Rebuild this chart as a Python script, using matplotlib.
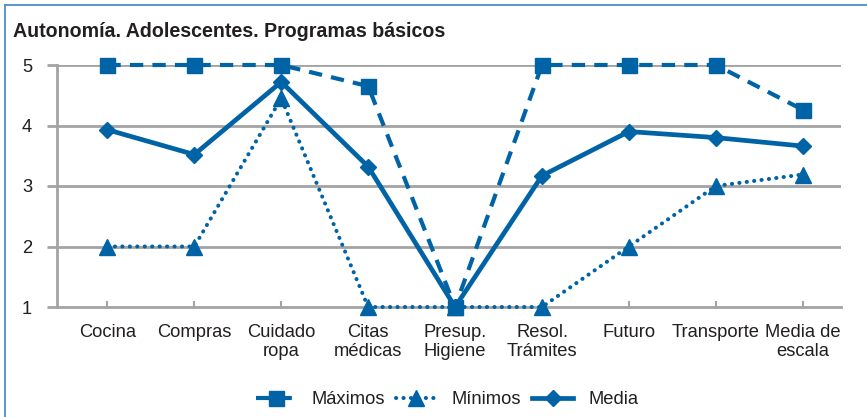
import matplotlib
matplotlib.use("Agg")
import matplotlib.pyplot as plt
from matplotlib.lines import Line2D

plt.rcParams['font.family'] = ['Liberation Sans', 'DejaVu Sans']

categories = ["Cocina", "Compras", "Cuidado\nropa", "Citas\nmédicas", "Presup.\nHigiene",
              "Resol.\nTrámites", "Futuro", "Transporte", "Media de\nescala"]
maximos = [5, 5, 5, 4.65, 1, 5, 5, 5, 4.26]
minimos = [2, 2, 4.45, 1, 1, 1, 2, 3, 3.19]
media = [3.93, 3.52, 4.72, 3.32, 1, 3.17, 3.90, 3.80, 3.66]
yticks = [1, 2, 3, 4, 5]
title = "Autonomía. Adolescentes. Programas básicos"

BLUE = "#0063a6"
GRAY = "#a3a3a3"
TXT = "#231f20"
FS = 13.2

fig = plt.figure(figsize=(8.67, 4.17), dpi=100)
ax = fig.add_axes([57/867, 1-307/417, (841-57)/867, (307-65)/417])

x = list(range(len(categories)))
ax.plot(x, maximos, color=BLUE, lw=3.0, ls=(0, (3.2, 2.2)), marker='s', ms=10.8,
        clip_on=False, zorder=3, label="Máximos")
ax.plot(x, minimos, color=BLUE, lw=2.9, ls=(0, (0.05, 1.8)), dash_capstyle='round',
        marker='^', ms=11, clip_on=False, zorder=3, label="Mínimos")
ax.plot(x, media, color=BLUE, lw=3.4, ls='-', marker='D', ms=8.5,
        clip_on=False, zorder=4, label="Media")

ax.set_xlim(-0.58, 8.44)
ax.set_ylim(1, 5)
ax.set_yticks(yticks)
ax.set_yticklabels([str(v) for v in yticks])
ax.set_xticks(x)
ax.set_xticklabels(categories, linespacing=1.2)

for y in yticks[1:]:
    ax.axhline(y, color=GRAY, lw=2, zorder=1)

for s in ['top', 'right']:
    ax.spines[s].set_visible(False)
for s in ['left', 'bottom']:
    ax.spines[s].set_color(GRAY)
    ax.spines[s].set_linewidth(2)

ax.tick_params(axis='y', direction='out', length=7, width=2, color=GRAY,
               labelsize=FS, labelcolor=TXT, pad=11)
ax.tick_params(axis='x', direction='in', length=4, width=1.5, color=GRAY,
               labelsize=FS, labelcolor=TXT, pad=12)

fig.text(13/867, 1-37/417, title, fontsize=14.1, fontweight='bold', color=TXT,
         ha='left', va='baseline')

leg = fig.legend(loc='center', bbox_to_anchor=(447/867, 1-400/417), ncol=3,
                 frameon=False, fontsize=FS, handlelength=2.2, handletextpad=0.85,
                 columnspacing=0.6, numpoints=1, labelcolor=TXT)

# border
fig.add_artist(Line2D([5/867, 5/867], [0, 1-4.5/417], transform=fig.transFigure,
                      color="#4a90c8", lw=1.3))
fig.add_artist(Line2D([5/867, 1], [1-4.5/417, 1-4.5/417], transform=fig.transFigure,
                      color="#4a90c8", lw=1.3))

fig.savefig("out.png", dpi=100)
